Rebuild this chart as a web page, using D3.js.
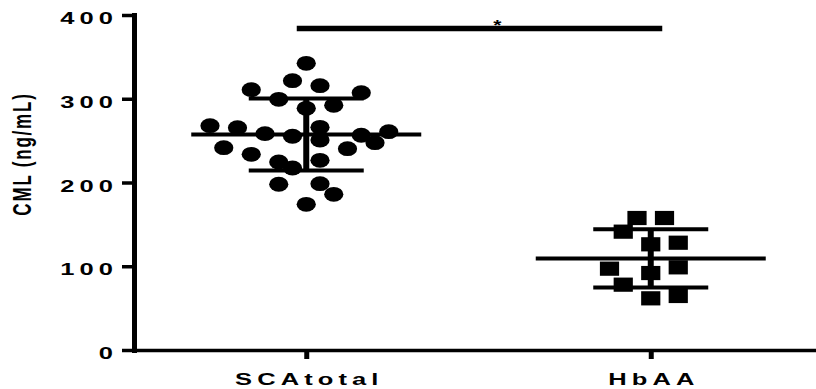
<!DOCTYPE html>
<html>
<head>
<meta charset="utf-8">
<script src="https://cdn.jsdelivr.net/npm/d3@7"></script>
<style>
  html, body { margin: 0; padding: 0; background: #fff; }
  svg { display: block; }
  text { font-family: "Liberation Sans", Arial, sans-serif; font-weight: bold; fill: #000; }
</style>
</head>
<body>
<svg id="chart" width="816" height="389"></svg>
<script>
// Groups on the x axis
const categories = ["SCAtotal", "HbAA"];

// CML (ng/mL) for each subject, per group
const scaValues = [342.3, 321.6, 315.6, 310.8, 307.2, 299.3, 288.6, 292.2, 267.8, 265.4,
                   258.3, 255.2, 265.9, 250.7, 256.4, 260.7, 247.5, 241.6, 233.7, 240.4,
                   224.5, 217.3, 226.5, 197.9, 198.6, 185.9, 174.0];
const hbaaValues = [157.6, 157.6, 141.3, 126.2, 128.1, 97.1, 91.9, 98.7, 78.0, 61.7, 64.5];

// Column (lane) of each dot within its scatter, 0 = group centre
const scaLane  = [0, -1, 1, -4, 4, -2, 0, 2, -7, -5, -3, -1, 1, 1, 4, 6, 5, -6, -4, 3, -2, -1, 1, -2, 1, 2, 0];
const hbaaLane = [-1, 1, -2, 0, 2, -3, 0, 2, -2, 0, 2];

// Axis ticks
const yTicks = [0, 100, 200, 300, 400];

// Significance bracket between the two groups
const sigLevel = 384;
const sigLabel = "*";

const svg = d3.select("#chart");
const X0 = 134, Y0 = 350, YTOP = 15;
const SX = 1.5;           // horizontal text stretch
const LS = 3.4;           // letter spacing

const y = d3.scaleLinear().domain([0, 400]).range([Y0, YTOP]);
const x = d3.scalePoint().domain(categories).range([X0, 823]).padding(0.5);
const laneStep = 13.75;

// ---- axes ----
const yAxis = svg.append("g")
  .attr("transform", `translate(${X0},0)`)
  .call(d3.axisLeft(y).tickValues(yTicks).tickSize(12).tickSizeOuter(0).tickFormat(d3.format("d")));
yAxis.select(".domain").attr("stroke", "#000").attr("stroke-width", 5).attr("stroke-linecap", "square");
yAxis.selectAll(".tick line").attr("stroke", "#000").attr("stroke-width", 3.5);
yAxis.selectAll(".tick text")
  .attr("font-size", 17).attr("letter-spacing", LS)
  .attr("text-anchor", "end")
  .attr("x", (-21 + LS * SX) / SX)
  .attr("dy", "0.5em")
  .attr("transform", `scale(${SX},1)`)
  .attr("fill", "#000");

const xAxis = svg.append("g")
  .attr("transform", `translate(0,${Y0})`)
  .call(d3.axisBottom(x).tickSize(9).tickSizeOuter(0));
xAxis.select(".domain").attr("stroke", "#000").attr("stroke-width", 3.5);
xAxis.selectAll(".tick line").attr("stroke", "#000").attr("stroke-width", 5);
xAxis.selectAll(".tick text")
  .attr("font-size", 17).attr("letter-spacing", LS)
  .attr("text-anchor", "middle")
  .attr("x", (LS * SX / 2) / SX)
  .attr("y", 35).attr("dy", 0)
  .attr("transform", `scale(${SX},1)`)
  .attr("fill", "#000");

// y-axis title
svg.append("text")
  .attr("transform", `translate(22,154) scale(${SX},1) rotate(-90)`)
  .attr("text-anchor", "middle")
  .attr("dy", "0.36em")
  .attr("font-size", 17)
  .attr("letter-spacing", 1.8)
  .text("CML (ng/mL)");

// ---- data points ----
const groups = [
  { name: categories[0], values: scaValues, lanes: scaLane, shape: "circle" },
  { name: categories[1], values: hbaaValues, lanes: hbaaLane, shape: "square" }
];

groups.forEach(g => {
  const cx = x(g.name);
  const pts = g.values.map((v, i) => ({ v, lane: g.lanes[i] }));
  const layer = svg.append("g");
  if (g.shape === "circle") {
    layer.selectAll("ellipse").data(pts).join("ellipse")
      .attr("cx", d => cx + d.lane * laneStep)
      .attr("cy", d => y(d.v))
      .attr("rx", 9.6).attr("ry", 7.4)
      .attr("fill", "#000");
  } else {
    layer.selectAll("rect").data(pts).join("rect")
      .attr("x", d => cx + d.lane * laneStep - 9.6)
      .attr("y", d => y(d.v) - 7.1)
      .attr("width", 19.2).attr("height", 14.2)
      .attr("fill", "#000");
  }

  // mean and standard deviation
  const m = d3.mean(g.values);
  const sd = d3.deviation(g.values);
  const stat = svg.append("g").attr("stroke", "#000");
  stat.append("line")
    .attr("x1", cx - 115).attr("x2", cx + 115)
    .attr("y1", y(m)).attr("y2", y(m))
    .attr("stroke-width", 4);
  stat.append("line")
    .attr("x1", cx).attr("x2", cx)
    .attr("y1", y(m + sd)).attr("y2", y(m - sd))
    .attr("stroke-width", 6);
  [m + sd, m - sd].forEach(v => {
    stat.append("line")
      .attr("x1", cx - 57.5).attr("x2", cx + 57.5)
      .attr("y1", y(v)).attr("y2", y(v))
      .attr("stroke-width", 4);
  });
});

// ---- significance bar ----
const xa = x(categories[0]), xb = x(categories[1]);
svg.append("line")
  .attr("x1", xa - 9.5).attr("x2", xb + 11.5)
  .attr("y1", y(sigLevel)).attr("y2", y(sigLevel))
  .attr("stroke", "#000").attr("stroke-width", 5.5);
svg.append("text")
  .attr("transform", `translate(${xa + 0.555 * (xb - xa)},${y(sigLevel) + 1.5}) scale(${SX},1)`)
  .attr("text-anchor", "middle")
  .attr("font-size", 14)
  .text(sigLabel);
</script>
</body>
</html>
